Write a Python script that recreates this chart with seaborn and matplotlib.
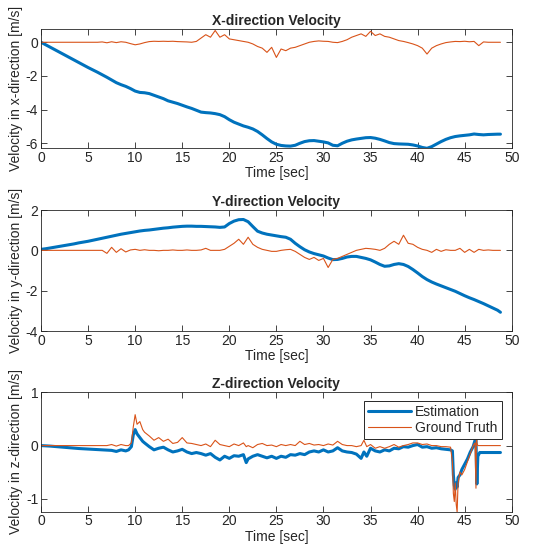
import matplotlib
matplotlib.use("Agg")
import matplotlib.pyplot as plt
import numpy as np
import pandas as pd
import seaborn as sns

# sample times (s) for the x / y plots
t_xy = list(np.arange(0, 49, 0.5)) + [48.8]

x_est = [0.0, -0.15, -0.3, -0.45, -0.6, -0.75, -0.9, -1.05, -1.2, -1.35,
         -1.5, -1.64, -1.78, -1.93, -2.08, -2.24, -2.4, -2.52, -2.62, -2.75,
         -2.9, -2.98, -3.0, -3.05, -3.15, -3.25, -3.35, -3.48, -3.56, -3.64,
         -3.74, -3.84, -3.93, -4.04, -4.15, -4.18, -4.2, -4.24, -4.3, -4.42,
         -4.6, -4.75, -4.86, -4.97, -5.05, -5.15, -5.3, -5.5, -5.72, -5.92,
         -6.06, -6.13, -6.16, -6.17, -6.12, -6.0, -5.9, -5.85, -5.84, -5.88,
         -5.92, -5.98, -6.12, -6.15, -6.0, -5.88, -5.8, -5.75, -5.71, -5.67,
         -5.66, -5.7, -5.77, -5.86, -5.96, -6.02, -6.04, -6.05, -6.06, -6.1,
         -6.16, -6.25, -6.3, -6.2, -6.05, -5.9, -5.77, -5.67, -5.6, -5.56,
         -5.53, -5.5, -5.45, -5.48, -5.5, -5.48, -5.47, -5.46, -5.46]

x_gt = [0.0, 0.0, 0.0, 0.0, 0.0, 0.0, 0.0, 0.0, 0.0, 0.0,
        0.0, 0.0, 0.0, 0.02, -0.03, 0.03, -0.02, 0.03, 0.0, -0.08,
        -0.15, -0.1, -0.02, 0.04, 0.06, 0.05, 0.06, 0.05, 0.06, 0.04,
        0.03, 0.02, 0.0, 0.05, 0.25, 0.45, 0.3, 0.7, 0.3, 0.45,
        0.2, 0.15, 0.1, 0.05, 0.0, -0.1, -0.25, -0.35, -0.6, -0.3,
        -0.9, -0.4, -0.5, -0.35, -0.3, -0.2, -0.1, 0.0, 0.05, 0.08,
        0.06, 0.05, 0.0, -0.02, 0.05, 0.15, 0.3, 0.4, 0.5, 0.35,
        0.65, 0.4, 0.5, 0.35, 0.3, 0.2, 0.1, 0.05, -0.02, -0.1,
        -0.2, -0.35, -0.7, -0.35, -0.2, -0.1, -0.02, 0.02, 0.05, 0.04,
        0.06, 0.03, 0.05, -0.2, 0.02, 0.0, 0.0, 0.0, 0.0]

y_est = [0.05, 0.08, 0.12, 0.16, 0.2, 0.24, 0.28, 0.32, 0.37, 0.41,
         0.45, 0.5, 0.55, 0.6, 0.65, 0.7, 0.75, 0.8, 0.84, 0.88,
         0.92, 0.96, 0.99, 1.01, 1.04, 1.07, 1.1, 1.12, 1.15, 1.17,
         1.19, 1.2, 1.2, 1.19, 1.19, 1.18, 1.17, 1.16, 1.14, 1.16,
         1.33, 1.45, 1.52, 1.53, 1.42, 1.18, 0.95, 0.86, 0.8, 0.76,
         0.72, 0.68, 0.65, 0.55, 0.35, 0.18, 0.03, -0.08, -0.16, -0.22,
         -0.28, -0.38, -0.46, -0.45, -0.4, -0.33, -0.3, -0.3, -0.35, -0.4,
         -0.47, -0.58, -0.7, -0.79, -0.77, -0.7, -0.66, -0.7, -0.8, -0.95,
         -1.12, -1.3, -1.45, -1.57, -1.67, -1.76, -1.85, -1.94, -2.03, -2.14,
         -2.25, -2.35, -2.44, -2.54, -2.64, -2.75, -2.86, -2.97, -3.07]

y_gt = [0.0, 0.0, 0.0, 0.0, 0.0, 0.0, 0.0, 0.0, 0.0, 0.0,
        0.0, 0.0, 0.0, 0.0, -0.15, 0.15, -0.1, 0.08, -0.08, 0.02,
        0.05, 0.0, 0.03, 0.0, 0.0, -0.02, 0.0, 0.0, 0.02, 0.0,
        0.0, 0.02, 0.0, 0.0, 0.02, 0.1, 0.0, 0.0, 0.0, 0.05,
        0.2, 0.35, 0.55, 0.3, 0.65, 0.3, 0.15, 0.05, 0.0, -0.05,
        -0.05, 0.0, 0.03, 0.05, -0.05, -0.2, -0.35, -0.45, -0.35, -0.5,
        -0.4, -0.85, -0.45, -0.4, -0.3, -0.2, -0.1, 0.0, 0.05, 0.1,
        0.08, 0.05, 0.0, 0.1, 0.3, 0.45, 0.3, 0.75, 0.35, 0.3,
        0.15, 0.05, 0.0, -0.1, 0.05, -0.05, 0.03, 0.0, 0.0, 0.1,
        -0.1, 0.05, -0.1, 0.05, 0.0, 0.02, 0.0, 0.0, 0.0]

# z plot has its own, irregular sample times around the spikes
t_z = [0, 1, 2, 3, 4, 5, 6, 7,
       7.5, 8, 8.5, 9,
       9.3, 9.6, 9.8, 10.0, 10.2, 10.5, 10.8, 11.0,
       11.5, 12.0, 12.5, 13.0, 13.5, 14.0, 14.5, 15.0, 15.5, 16.0, 16.5,
       17.0, 17.5, 18.0, 18.5, 19.0, 19.5, 20.0, 20.5, 21.0, 21.5,
       21.8,
       22.0, 22.5, 23.0, 23.5, 24.0, 24.5, 25.0, 25.5, 26.0, 26.5, 27.0,
       27.5, 28.0, 28.5, 29.0, 29.5, 30.0, 30.5, 31.0, 31.5, 32.0, 32.5,
       33.0, 33.5, 34.0,
       34.3, 34.6,
       35.0, 35.5, 36.0, 36.5, 37.0, 37.5, 38.0, 38.5, 39.0, 39.5, 40.0,
       40.5, 41.0, 41.5, 42.0, 42.5, 43.0, 43.5,
       43.7, 43.8, 43.9, 44.0, 44.1, 44.2, 44.3, 44.5, 44.7,
       45.0, 45.3, 45.6, 45.9,
       46.1, 46.2, 46.25, 46.3, 46.4, 46.6,
       47.0, 48.0, 48.8]

z_est = [0.0, -0.01, -0.025, -0.04, -0.055, -0.065, -0.075, -0.085,
         -0.09, -0.11, -0.08, -0.1,
         -0.08, -0.02, 0.2, 0.3, 0.22, 0.15, 0.08, 0.05,
         -0.02, -0.08, -0.05, -0.03, -0.08, -0.12, -0.1, -0.07, -0.12, -0.15, -0.13,
         -0.15, -0.18, -0.15, -0.22, -0.27, -0.2, -0.24, -0.19, -0.2, -0.17,
         -0.32,
         -0.25, -0.2, -0.17, -0.2, -0.23, -0.2, -0.24, -0.2, -0.22, -0.17, -0.18,
         -0.15, -0.17, -0.12, -0.1, -0.12, -0.08, -0.12, -0.1, -0.04, -0.1, -0.12,
         -0.13, -0.16, -0.24,
         -0.12, -0.2,
         -0.05, -0.1, -0.12, -0.08, -0.1, -0.05, -0.06, -0.02, -0.03, 0.0, 0.02,
         -0.03, -0.02, -0.05, -0.04, -0.06, -0.07, -0.08,
         -0.1, -0.55, -0.75, -0.82, -0.7, -0.78, -0.6, -0.55, -0.45,
         -0.35, -0.25, -0.12, -0.02,
         0.1, 0.2, -0.4, -0.72, -0.2, -0.13,
         -0.13, -0.13, -0.13]

z_gt = [0.0, 0.0, 0.0, 0.0, 0.0, 0.0, 0.0, 0.0,
        0.02, -0.01, 0.02, 0.0,
        0.0, 0.05, 0.35, 0.58, 0.4, 0.45, 0.3, 0.25,
        0.18, 0.1, 0.15, 0.08, 0.12, 0.04, 0.06, 0.15, 0.05, 0.04, 0.02,
        0.0, 0.03, -0.02, 0.1, 0.02, 0.0, -0.02, 0.03, 0.0, 0.05,
        -0.02,
        0.0, -0.04, 0.02, 0.04, 0.0, 0.01, -0.02, 0.02, 0.0, 0.02, 0.0,
        0.08, 0.02, 0.04, 0.01, 0.02, 0.0, 0.03, 0.01, 0.08, 0.02, 0.0,
        0.0, -0.02, 0.0,
        0.1, -0.02,
        0.02, -0.05, -0.02, -0.05, -0.02, 0.02, -0.03, 0.0, 0.02, 0.05, 0.05,
        0.02, 0.03, 0.0, 0.0, -0.02, -0.02, -0.03,
        -0.3, -0.9, -1.05, -0.7, -1.1, -1.25, -0.7, -0.5, -0.55,
        -0.45, -0.3, -0.15, 0.0,
        0.05, -0.8, 0.3, 0.05, 0.0, 0.0,
        0.0, 0.0, 0.0]

panels = [
    ("X-direction Velocity", "Velocity in x-direction [m/s]", t_xy, x_est, x_gt, (-6.3, 0.77), [-6, -4, -2, 0]),
    ("Y-direction Velocity", "Velocity in y-direction [m/s]", t_xy, y_est, y_gt, (-4, 2), [-4, -2, 0, 2]),
    ("Z-direction Velocity", "Velocity in z-direction [m/s]", t_z, z_est, z_gt, (-1.24, 1), [-1, 0, 1]),
]

EST_COLOR = "#0072BD"
GT_COLOR = "#D95319"
INK = "#262626"

sns.set_theme(style="ticks")
plt.rcParams["font.family"] = ["Liberation Sans", "DejaVu Sans"]
plt.rcParams["axes.unicode_minus"] = False
plt.rcParams["text.color"] = INK
plt.rcParams["axes.labelcolor"] = INK
plt.rcParams["xtick.color"] = INK
plt.rcParams["ytick.color"] = INK

fig = plt.figure(figsize=(5.34, 5.54), dpi=100)
positions = [
    [0.0768, 0.7323, 0.8815, 0.2148],
    [0.0768, 0.4025, 0.8815, 0.2184],
    [0.0768, 0.0764, 0.8815, 0.2155],
]

for pos, (title, ylabel, t, est, gt, ylim, yticks) in zip(positions, panels):
    ax = fig.add_axes(pos)
    df = pd.DataFrame({"time": t, "est": est, "gt": gt})
    sns.lineplot(data=df, x="time", y="est", ax=ax, color=EST_COLOR,
                 linewidth=2.2, label="Estimation", sort=False)
    sns.lineplot(data=df, x="time", y="gt", ax=ax, color=GT_COLOR,
                 linewidth=0.8, label="Ground Truth", sort=False)

    ax.set_xlim(0, 50)
    ax.set_ylim(*ylim)
    ax.set_xticks(range(0, 51, 5))
    ax.set_yticks(yticks)
    ax.set_title(title, fontsize=10, fontweight="bold", pad=3)
    ax.set_xlabel("Time [sec]", fontsize=10, labelpad=1)
    ax.set_ylabel(ylabel, fontsize=10, labelpad=2)
    ax.tick_params(direction="in", top=True, right=True, length=4,
                   width=0.6, labelsize=10, pad=2)
    for sp in ax.spines.values():
        sp.set_color(INK)
        sp.set_linewidth(0.6)

    if title.startswith("Z"):
        leg = ax.legend(loc="upper right", bbox_to_anchor=(0.979, 0.927),
                        borderaxespad=0, fontsize=10, fancybox=False,
                        framealpha=1, edgecolor=INK, labelspacing=0.15,
                        borderpad=0.3, handletextpad=0.3, handlelength=3.1)
        leg.get_frame().set_linewidth(0.7)
    else:
        ax.get_legend().remove()

fig.savefig("out.png", dpi=100)
